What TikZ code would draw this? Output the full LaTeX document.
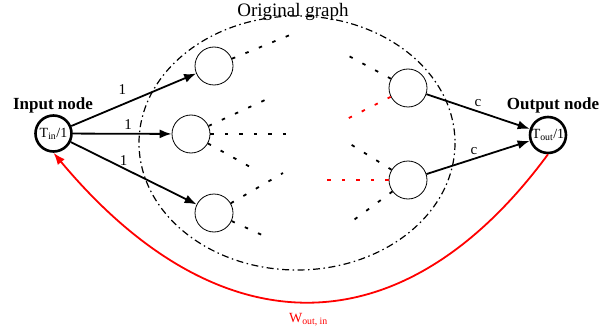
\documentclass[tikz,border=0pt]{standalone}
\usepackage{fontspec}
\setmainfont{Liberation Serif}
\usetikzlibrary{arrows.meta,positioning}
\definecolor{ink}{HTML}{000000}
\definecolor{loopred}{HTML}{FF0000}
\tikzset{
  flow/.style={-{Latex[length=12pt,width=9pt]},draw=ink,line width=1.8pt},
  back/.style={-{Latex[length=12pt,width=9pt]},draw=loopred,line width=1.8pt},
  ionode/.style={circle,draw=ink,line width=2.6pt,minimum size=36pt,
    inner sep=0pt,font=\fontsize{14}{14}\selectfont},
  vertex/.style={circle,draw=ink,line width=.8pt,minimum size=38pt,inner sep=0pt},
  link/.style={draw=ink,line width=1.8pt,dash pattern=on 3.5pt off 11pt},
  redlink/.style={link,draw=loopred},
  hull/.style={draw=ink,line width=1.2pt,
    dash pattern=on 7pt off 3.5pt on 1.5pt off 3.5pt},
  weight/.style={font=\fontsize{15}{15}\selectfont,inner sep=1.5pt},
  iotitle/.style={font=\fontsize{17}{17}\selectfont\bfseries,anchor=base},
  wlabel/.style={font=\fontsize{14}{14}\selectfont,text=loopred,inner sep=1.5pt},
}

\begin{document}
\begin{tikzpicture}[x=1pt,y=-1pt]
\useasboundingbox (0,0) rectangle (615,334);
% original graph
\draw[hull] (297,143) ellipse [x radius=158,y radius=127];
\node[font=\fontsize{19}{19}\selectfont,anchor=base] (orig) at (293,16.7) {Original graph};
% input and output
\node[ionode] (in) at (53.5,133.5) {T\textsubscript{in}/1};
\node[ionode] (out) at (548,135) {T\textsubscript{out}/1};
\node[iotitle] (intitle) at (53,109.5) {Input node};
\node[iotitle] (outtitle) at (553,109.5) {Output node};
% inner vertices
\node[vertex] (a1) at (214,66) {};
\node[vertex] (a2) at (191,134) {};
\node[vertex] (a3) at (214,213) {};
\node[vertex] (b1) at (408,88) {};
\node[vertex] (b2) at (408,180) {};
\foreach \a/\b/\w/\p/\o in {in/a1/1/.41/8pt,in/a2/1/.56/1.5pt,in/a3/1/.42/0pt,
  b1/out/c/.5/2pt,b2/out/c/.46/2pt}
  \draw[flow] (\a) -- node[weight,above=\o,pos=\p] {\w} (\b);
% rest of the graph
\coordinate (e1) at (290,35);
\coordinate (f1) at (265,100);\coordinate (f2) at (290,134);\coordinate (f3) at (252,168);
\coordinate (g1) at (283,173);\coordinate (g2) at (262,235);
\coordinate (h1) at (347,55);\coordinate (h2) at (347,119);
\coordinate (k1) at (347,142);\coordinate (k2) at (327,180);\coordinate (k3) at (347,225);
\foreach \a/\b in {a1/e1,a2/f1,a2/f2,a2/f3,a3/g1,a3/g2,b1/h1,b2/k1,b2/k3}\draw[link] (\a) -- (\b);
\foreach \a/\b in {b1/h2,b2/k2}\draw[redlink] (\a) -- (\b);
% feedback
\draw[back] (out.south) .. controls (403,351) and (219,351) ..
  node[wlabel,below=9pt,pos=.5] (w) {W\textsubscript{out, in}} (in.south);
\end{tikzpicture}
\end{document}
